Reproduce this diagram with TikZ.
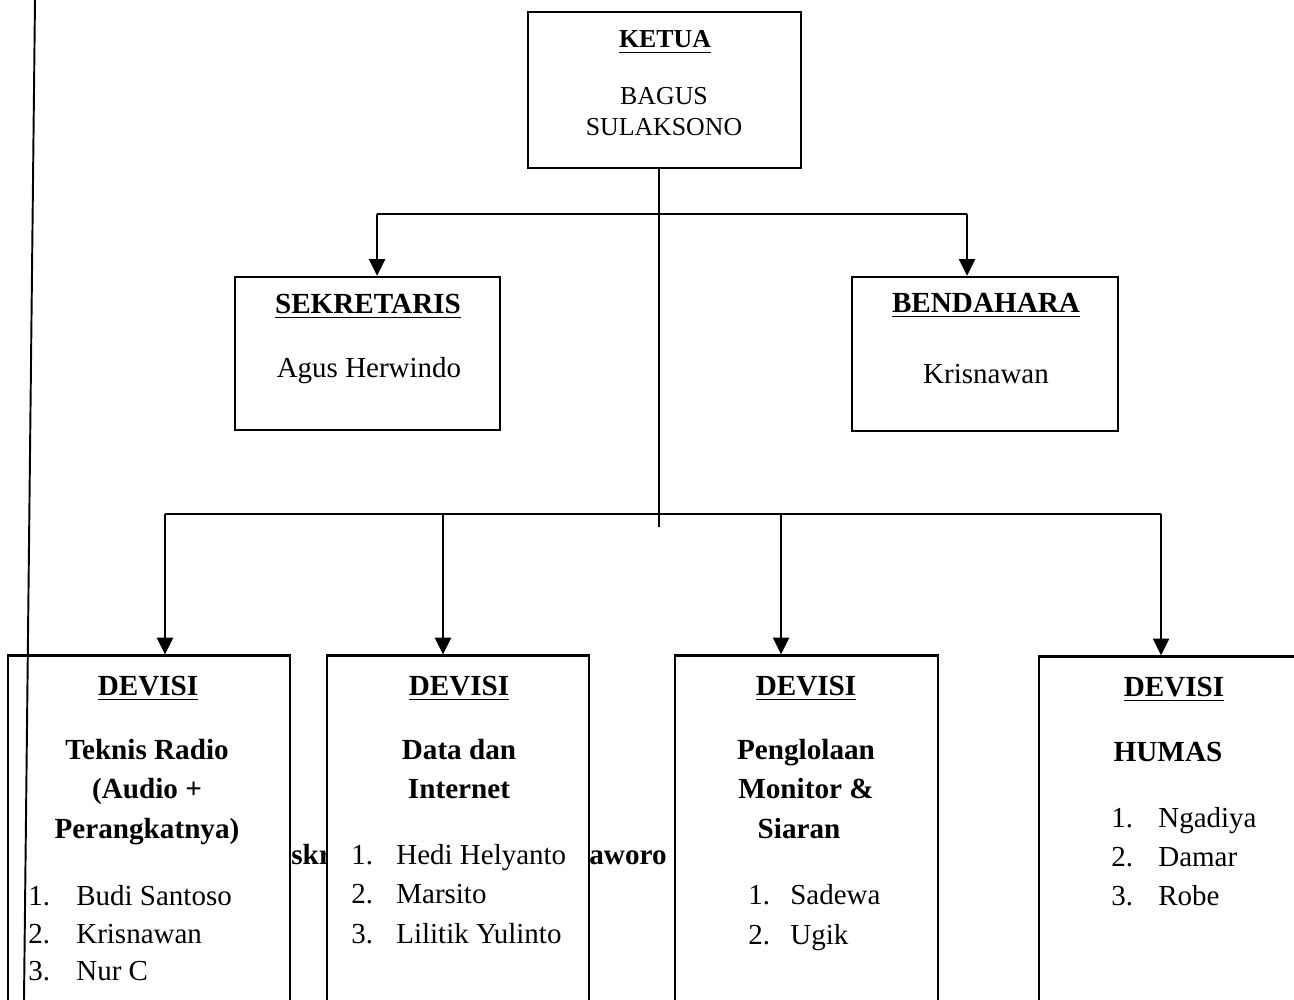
\documentclass[tikz,border=0pt]{standalone}
\usepackage{fontspec}
\setmainfont{Liberation Serif}
\usetikzlibrary{arrows.meta}
\newcommand{\ulbox}[1]{{\setbox0\hbox{#1}\rlap{\raisebox{-3pt}{\rule{\wd0}{1pt}}}\box0}}
\begin{document}
\begin{tikzpicture}[x=0.02cm,y=-0.02cm,
  box/.style={draw,line width=1.3pt,fill=white,inner sep=0pt},
  conn/.style={line width=1.5pt},
  arr/.style={conn,-{Triangle[length=9.5pt,width=9pt]}},
  big/.style={font=\fontsize{16.5pt}{19pt}\selectfont,inner sep=0pt},
  bigb/.style={font=\fontsize{16.6pt}{19pt}\selectfont\bfseries,inner sep=0pt},
  small/.style={font=\fontsize{14.7pt}{17pt}\selectfont,inner sep=0pt},
  smallb/.style={font=\fontsize{14.7pt}{17pt}\selectfont\bfseries,inner sep=0pt},
]
\useasboundingbox (0,0) rectangle (1294,1000);
\clip (0,0) rectangle (1294,1000);

% partially hidden text fragments
\node[bigb,anchor=base west] (frag1) at (291,864) {skr};
\node[bigb,anchor=base west] (frag2) at (589,864) {aworo};

% boxes
\node[box,minimum width=5.46cm,minimum height=3.12cm] (ketua) at (664.5,90) {};
\node[box,minimum width=5.30cm,minimum height=3.06cm] (sekr) at (367.5,353.5) {};
\node[box,minimum width=5.32cm,minimum height=3.08cm] (bend) at (985,354) {};
\node[box,minimum width=5.64cm,minimum height=7.3cm] (dv1) at (149,838) {};
\node[box,minimum width=5.24cm,minimum height=7.3cm] (dv2) at (458,838) {};
\node[box,minimum width=5.26cm,minimum height=7.3cm] (dv3) at (806.5,838) {};
\node[box,minimum width=5.42cm,minimum height=7.3cm] (dv4) at (1174.5,839) {};

% top box text
\node[smallb,anchor=base] (k1) at (665,48) {\ulbox{KETUA}};
\node[small,anchor=base] (k2) at (664,105) {BAGUS};
\node[small,anchor=base] (k3) at (664,136) {SULAKSONO};

% level 2 text
\node[bigb,anchor=base] (s1) at (368,313) {\ulbox{SEKRETARIS}};
\node[big,anchor=base] (s2) at (369,377) {Agus Herwindo};
\node[bigb,anchor=base] (be1) at (986,312) {\ulbox{BENDAHARA}};
\node[big,anchor=base] (be2) at (986,383) {Krisnawan};

% division 1
\node[bigb,anchor=base] (a1) at (148,695) {\ulbox{DEVISI}};
\node[bigb,anchor=base] (a2) at (147,759) {Teknis Radio};
\node[bigb,anchor=base] (a3) at (147,798) {(Audio +};
\node[bigb,anchor=base] (a4) at (147,838) {Perangkatnya)};
\node[big,anchor=base west] (a5n) at (28,905) {1.};
\node[big,anchor=base west] (a5) at (76,905) {Budi Santoso};
\node[big,anchor=base west] (a6n) at (28,943) {2.};
\node[big,anchor=base west] (a6) at (76,943) {Krisnawan};
\node[big,anchor=base west] (a7n) at (28,980) {3.};
\node[big,anchor=base west] (a7) at (76,980) {Nur C};

% division 2
\node[bigb,anchor=base] (b1) at (459,695) {\ulbox{DEVISI}};
\node[bigb,anchor=base] (b2) at (459,759) {Data dan};
\node[bigb,anchor=base] (b3) at (459,798) {Internet};
\node[big,anchor=base west] (b4n) at (351,864) {1.};
\node[big,anchor=base west] (b4) at (396,864) {Hedi Helyanto};
\node[big,anchor=base west] (b5n) at (351,903) {2.};
\node[big,anchor=base west] (b5) at (396,903) {Marsito};
\node[big,anchor=base west] (b6n) at (351,943) {3.};
\node[big,anchor=base west] (b6) at (396,943) {Lilitik Yulinto};

% division 3
\node[bigb,anchor=base] (c1) at (806,695) {\ulbox{DEVISI}};
\node[bigb,anchor=base] (c2) at (806,759) {Penglolaan};
\node[bigb,anchor=base] (c3) at (806,798) {Monitor \&};
\node[bigb,anchor=base] (c4) at (799,838) {Siaran};
\node[big,anchor=base west] (c5n) at (748,904) {1.};
\node[big,anchor=base west] (c5) at (790,904) {Sadewa};
\node[big,anchor=base west] (c6n) at (748,944) {2.};
\node[big,anchor=base west] (c6) at (790,944) {Ugik};

% division 4
\node[bigb,anchor=base] (d1) at (1174,696) {\ulbox{DEVISI}};
\node[bigb,anchor=base] (d2) at (1168,761) {HUMAS};
\node[big,anchor=base west] (d3n) at (1111,827) {1.};
\node[big,anchor=base west] (d3) at (1158,827) {Ngadiya};
\node[big,anchor=base west] (d4n) at (1111,866) {2.};
\node[big,anchor=base west] (d4) at (1158,866) {Damar};
\node[big,anchor=base west] (d5n) at (1111,905) {3.};
\node[big,anchor=base west] (d5) at (1158,905) {Robe};

% connectors
\coordinate (trunk) at (659,527);
\coordinate (j2l) at (377,214);
\coordinate (j2r) at (967,214);
\coordinate (j3a) at (165,514);
\coordinate (j3b) at (443,514);
\coordinate (j3c) at (781,514);
\coordinate (j3d) at (1161,514);
\draw[conn] (ketua.south -| trunk) -- (trunk);
\draw[conn] (j2l) -- (j2r);
\draw[arr] (j2l) -- (j2l |- sekr.north);
\draw[arr] (j2r) -- (j2r |- bend.north);
\draw[conn] (j3a) -- (j3d);
\draw[arr] (j3a) -- (j3a |- dv1.north);
\draw[arr] (j3b) -- (j3b |- dv2.north);
\draw[arr] (j3c) -- (j3c |- dv3.north);
\draw[arr] (j3d) -- (j3d |- dv4.north);

% left margin line
\coordinate (lt) at (35,0);
\coordinate (lb) at (24,1000);
\draw[line width=1.1pt] (lt) -- (lb);
\end{tikzpicture}
\end{document}
